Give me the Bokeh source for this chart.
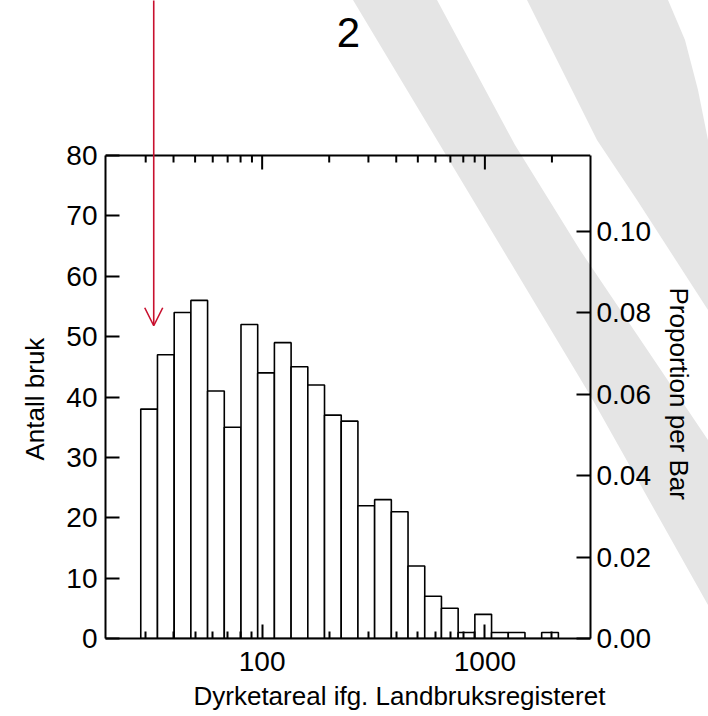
import math
from urllib.parse import quote
from bokeh.plotting import figure
from bokeh.models import (LinearAxis, Range1d, FixedTicker, PrintfTickFormatter,
                          Arrow, OpenHead, Span, Label, Title)
from bokeh.embed import file_html
from bokeh.resources import INLINE

# ---- data ----
counts = [38, 47, 54, 56, 41, 35, 52, 44, 49, 45, 42, 37, 36,
          22, 23, 21, 12, 7, 5, 1, 4, 1, 1, 0, 1]
bin_log_start = 1.455      # log10 of first bin's left edge
bin_log_width = 0.075      # log10 width of every bin
x_major = [100, 1000]
x_minor = [30, 40, 50, 60, 70, 80, 90, 200, 300, 400, 500, 600, 700, 800, 900, 2000]
y_ticks = [0, 10, 20, 30, 40, 50, 60, 70, 80]
prop_ticks = [0.00, 0.02, 0.04, 0.06, 0.08, 0.10]
y_max = 80
marker_x = 32.6
marker_tip = 51.8
title_text = "2"
x_label = "Dyrketareal ifg. Landbruksregisteret"
y_label = "Antall bruk"
y2_label = "Proportion per Bar"

edges = [10 ** (bin_log_start + bin_log_width * i) for i in range(len(counts) + 1)]
total = sum(counts)

# ---- layout geometry (pixels) ----
W, H = 708, 716
FRAME_L, FRAME_R, FRAME_B = 105, 590, 638   # frame reaches the canvas top
BOX_TOP = 155                               # pixel row of y = 80
y_top = y_max * FRAME_B / (FRAME_B - BOX_TOP)

FONT = "Liberation Sans"
GRAY = "#e5e5e5"
RED = "#c8102e"

# decorative slide background stripes (CSS background of the plot element)
stripe_a = [(353, 0), (437, 0), (515, 145), (580, 250), (708, 440), (708, 605),
            (590, 395), (533, 300), (440, 145)]
stripe_b = [(527, 0), (668, 0), (685, 40), (698, 90), (708, 140), (708, 310),
            (637, 200), (597, 140)]
def pts(poly):
    return " ".join(f"{x},{y}" for x, y in poly)
svg = (f"<svg xmlns='http://www.w3.org/2000/svg' width='{W}' height='{H}'>"
       f"<polygon points='{pts(stripe_a)}' fill='{GRAY}'/>"
       f"<polygon points='{pts(stripe_b)}' fill='{GRAY}'/></svg>")
bg = "data:image/svg+xml," + quote(svg)

p = figure(width=W, height=H, x_axis_type="log",
           x_range=Range1d(19.8, 2980), y_range=Range1d(0, y_top),
           output_backend="svg", toolbar_location=None,
           min_border_left=FRAME_L, min_border_right=W - FRAME_R,
           min_border_top=0, min_border_bottom=H - FRAME_B)
p.extra_y_ranges = {"prop": Range1d(0, y_top / total)}
p.grid.visible = False
p.outline_line_color = None
p.background_fill_color = None
p.border_fill_color = None
p.styles = {"background-image": f'url("{bg}")', "background-repeat": "no-repeat",
            "background-size": f"{W}px {H}px", "background-color": "white"}

p.quad(left=edges[:-1], right=edges[1:], bottom=0, top=counts,
       fill_color="white", line_color="black", line_width=1.6)

def style_axis(ax):
    ax.axis_line_color = "black"
    ax.axis_line_width = 2
    ax.major_tick_line_width = 2
    ax.minor_tick_line_width = 2
    ax.major_tick_out = 0
    ax.minor_tick_out = 0
    ax.major_tick_in = 14
    ax.minor_tick_in = 7
    ax.major_label_text_font = FONT
    ax.major_label_text_font_size = "28px"
    ax.major_label_text_color = "black"

def caption(text, **kw):
    return Title(text=text, text_font=FONT, text_font_size="26px",
                 text_font_style="normal", text_color="black", **kw)

# bottom x axis
xa = p.xaxis[0]
xa.ticker = FixedTicker(ticks=x_major, minor_ticks=x_minor)
xa.formatter = PrintfTickFormatter(format="%d")
style_axis(xa)
xa.major_label_standoff = 13
p.add_layout(caption(x_label, align="left", offset=88, standoff=10), "below")

# left y axis (only up to the box top)
ya = p.yaxis[0]
ya.ticker = FixedTicker(ticks=y_ticks)
ya.bounds = (0, y_max)
style_axis(ya)
ya.minor_tick_line_color = None
ya.major_label_standoff = 8
p.add_layout(caption(y_label, align="left", offset=178, standoff=28), "left")

# right proportion axis
yr = LinearAxis(y_range_name="prop", ticker=FixedTicker(ticks=prop_ticks),
                formatter=PrintfTickFormatter(format="%.2f"),
                bounds=(0, y_max / total))
style_axis(yr)
yr.minor_tick_line_color = None
yr.major_label_standoff = 6
p.add_layout(yr, "right")
p.add_layout(caption(y2_label, align="left", offset=287, standoff=21), "right")

# top edge of the box with inward ticks
p.add_layout(Span(location=y_max, dimension="width", line_color="black", line_width=2))
p.ray(x=x_major, y=[y_max] * len(x_major), length=14, angle=-math.pi / 2,
      length_units="screen", line_color="black", line_width=2)
p.ray(x=x_minor, y=[y_max] * len(x_minor), length=7, angle=-math.pi / 2,
      length_units="screen", line_color="black", line_width=2)

# title "2"
p.add_layout(Label(x=244, y=100.4, text=title_text, text_align="center",
                   text_baseline="alphabetic", text_font=FONT,
                   text_font_size="42px", text_color="black"))

# red arrow marker
p.add_layout(Arrow(end=OpenHead(size=18, line_color=RED, line_width=1.6),
                   x_start=marker_x, y_start=y_top + 5, x_end=marker_x, y_end=marker_tip,
                   line_color=RED, line_width=1.6))

open("out.html", "w").write(file_html(p, INLINE))
